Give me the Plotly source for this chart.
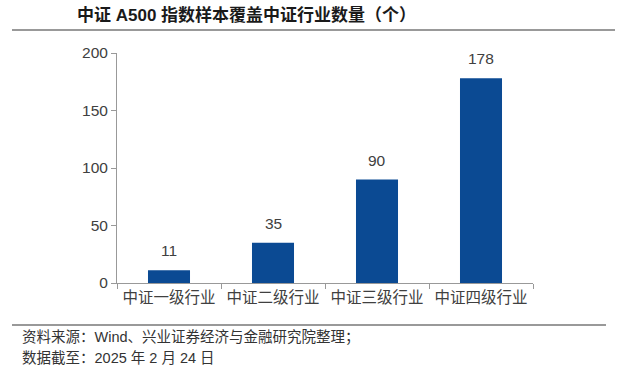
import plotly.graph_objects as go

categories = ["中证一级行业", "中证二级行业", "中证三级行业", "中证四级行业"]
values = [11, 35, 90, 178]
title_text = "中证 A500 指数样本覆盖中证行业数量（个）"
source_lines = ["资料来源：Wind、兴业证券经济与金融研究院整理；", "数据截至：2025 年 2 月 24 日"]

FONT = "Liberation Sans, Arial, Noto Sans CJK SC, sans-serif"
L, R, T, B = 117, 85, 53, 94
W, H = 618, 377
pw, ph = W - L - R, H - T - B

def px(x):
    return (x - L) / pw

def py(y):
    return (H - B - y) / ph

fig = go.Figure(go.Bar(
    x=categories, y=values,
    marker=dict(color="#0b4a93", line=dict(width=0)),
    cliponaxis=False, width=0.404, hoverinfo="skip",
))

value_labels = [
    dict(x=c, y=v, xref="x", yref="y", text=str(v), showarrow=False,
         yanchor="bottom", yshift=9, font=dict(size=15.5, color="#404040", family=FONT))
    for c, v in zip(categories, values)
]

fig.update_layout(
    width=W, height=H, margin=dict(l=L, r=R, t=T, b=B),
    paper_bgcolor="white", plot_bgcolor="white", showlegend=False,
    font=dict(family=FONT, color="#404040"),
    xaxis=dict(showline=True, linecolor="#999999", linewidth=1, ticks="outside",
               tickson="boundaries", ticklen=5, tickcolor="#999999",
               tickfont=dict(size=15.5, color="#404040"), showgrid=False),
    yaxis=dict(range=[0, 200], dtick=50, showline=True, linecolor="#999999", linewidth=1,
               ticks="outside", ticklen=5, tickcolor="#999999", showgrid=False,
               zeroline=False, tickfont=dict(size=15.5, color="#404040")),
    shapes=[
        dict(type="line", xref="paper", yref="paper", x0=px(12), x1=px(615), y0=py(30), y1=py(30),
             line=dict(color="#999999", width=2)),
        dict(type="line", xref="paper", yref="paper", x0=px(12), x1=px(606), y0=py(325), y1=py(325),
             line=dict(color="#999999", width=2)),
    ],
    annotations=value_labels + [
        dict(text="<b>" + title_text + "</b>", xref="paper", yref="paper", x=px(75), y=py(15),
             xanchor="left", yanchor="middle", showarrow=False,
             font=dict(size=17, color="#1a1a1a", family=FONT)),
        dict(text=source_lines[0], xref="paper", yref="paper", x=px(20), y=py(337),
             xanchor="left", yanchor="middle", showarrow=False,
             font=dict(size=14.5, color="#333333", family=FONT)),
        dict(text=source_lines[1], xref="paper", yref="paper", x=px(20), y=py(358),
             xanchor="left", yanchor="middle", showarrow=False,
             font=dict(size=14.5, color="#333333", family=FONT)),
    ],
)

fig.write_html("out.html", config={"displayModeBar": False},
               post_script="document.body.style.margin='0px';document.body.style.overflow='hidden';")
